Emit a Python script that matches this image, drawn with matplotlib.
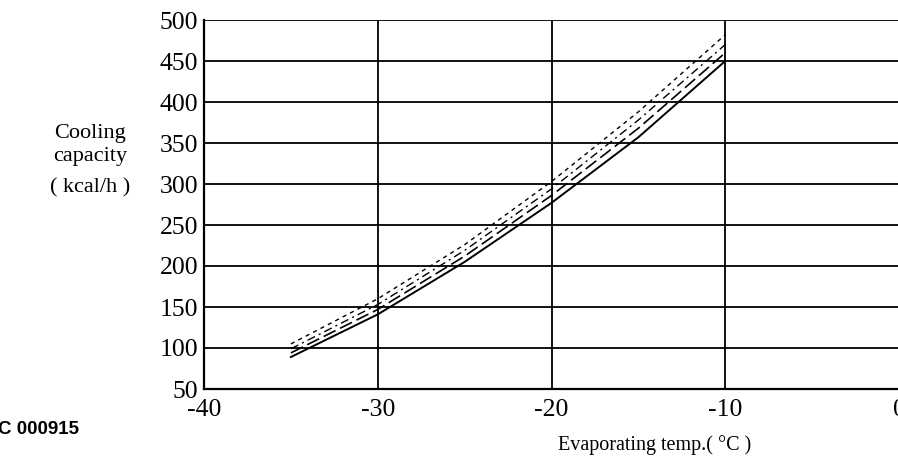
import matplotlib.pyplot as plt

plt.rcParams['font.family'] = ['Liberation Serif', 'DejaVu Serif']
plt.rcParams['axes.unicode_minus'] = False

temp = [-35, -30, -25, -20, -15, -10]
cap_solid = [89, 141, 205, 277, 357, 450]
cap_dash = [94, 147, 212, 286, 368, 460]
cap_dashdot = [99, 153, 219, 294, 378, 470]
cap_dot = [105, 160, 226, 303, 388, 482]

xticks = [-40, -30, -20, -10, 0]
yticks = [50, 100, 150, 200, 250, 300, 350, 400, 450, 500]

fig = plt.figure(figsize=(8.98, 4.68), dpi=100)
ax = fig.add_axes([204/898, 1 - 389/468, 695/898, 369/468])

ax.plot(temp, cap_solid, color='black', lw=1.4, ls='-')
ax.plot(temp, cap_dash, color='black', lw=1.2, ls=(0, (8, 3)))
ax.plot(temp, cap_dashdot, color='black', lw=1.0, ls=(0, (6, 3, 1.5, 3)))
ax.plot(temp, cap_dot, color='black', lw=1.0, ls=(0, (3, 3)))

ax.set_xlim(-40, 0)
ax.set_ylim(50, 500)
ax.set_xticks(xticks)
ax.set_yticks(yticks)
ax.tick_params(labelsize=18.5, length=0, pad=4)
ax.tick_params(axis='x', pad=7)
ax.grid(True, color='black', lw=1.3)
for s in ['top', 'right']:
    ax.spines[s].set_visible(False)
for s in ['left', 'bottom']:
    ax.spines[s].set_linewidth(1.6)
ax.set_axisbelow(True)

fig.text(90/898, 1 - 145/468, "Cooling\ncapacity", ha='center', va='center',
         fontsize=16, linespacing=1.3)
fig.text(90/898, 1 - 188/468, "( kcal/h )", ha='center', va='center', fontsize=16)
fig.text(655/898, 1 - 445/468, "Evaporating temp.( °C )", ha='center', va='center',
         fontsize=14.5)
fig.text(-2/898, 1 - 430/468, "C 000915", ha='left', va='center', fontsize=13.5,
         family=['Liberation Sans', 'DejaVu Sans'], weight='bold')

fig.savefig('out.png', dpi=100)
